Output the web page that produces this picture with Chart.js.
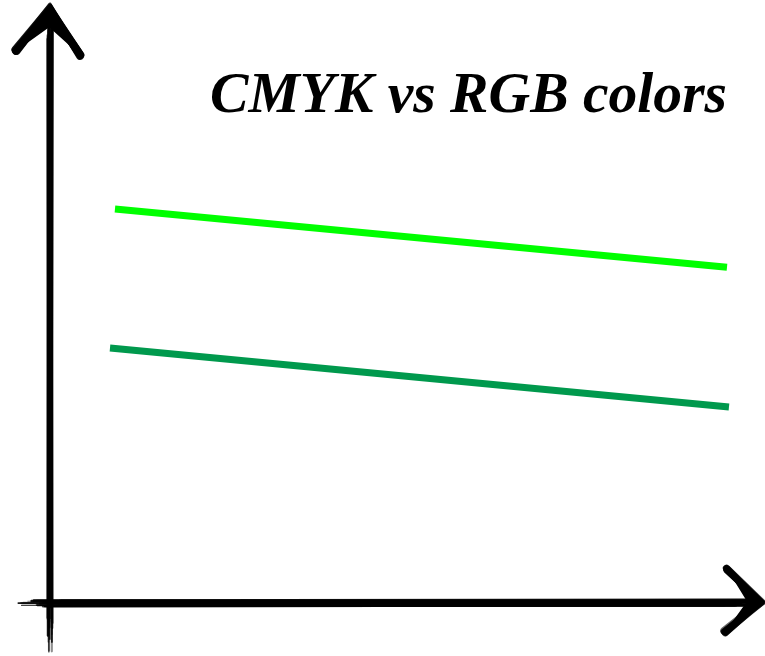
<!DOCTYPE html>
<html>
<head>
<meta charset="utf-8">
<script src="https://cdn.jsdelivr.net/npm/chart.js@4.4.0/dist/chart.umd.min.js"></script>
<style>
  html,body{margin:0;padding:0;background:#fff;}
  #wrap{width:765px;height:656px;position:relative;}
</style>
</head>
<body>
<div id="wrap"><canvas id="c" width="765" height="656"></canvas></div>
<script>
const titleText = "CMYK vs RGB colors";
const seriesNames = ["RGB green", "CMYK green"];
const rgbX = [9.15, 95.35];
const rgbY = [67.0, 57.1];
const cmykX = [8.45, 95.63];
const cmykY = [43.37, 33.33];
const seriesColors = ["#00FF00", "#00994D"];

function pts(xs, ys){ return xs.map((x,i)=>({x:x, y:ys[i]})); }

// deterministic pseudo-random for sketch texture
function makeRng(seed){ let s = seed; return function(){ s = (s*1103515245 + 12345) & 0x7fffffff; return s/0x7fffffff; }; }

const sketchAxes = {
  id: 'sketchAxes',
  afterDraw(chart){
    const ctx = chart.ctx;
    const a = chart.chartArea;
    const rnd = makeRng(7);
    const x0 = a.left, y0 = a.bottom;
    ctx.save();
    ctx.lineCap = 'round';
    // vertical axis strokes
    for(let i=0;i<30;i++){
      ctx.beginPath();
      ctx.strokeStyle = 'rgba(0,0,0,' + (0.4 + rnd()*0.6) + ')';
      ctx.lineWidth = 0.8 + rnd()*1.8;
      const off = (rnd()-0.5)*5;
      const t1 = 12 + rnd()*30, t2 = 652 - rnd()*50;
      ctx.moveTo(x0 + off + (rnd()-0.5)*1.5, t1);
      ctx.lineTo(x0 + off + (rnd()-0.5)*1.5, t2);
      ctx.stroke();
    }
    // horizontal axis strokes
    for(let i=0;i<30;i++){
      ctx.beginPath();
      ctx.strokeStyle = 'rgba(0,0,0,' + (0.4 + rnd()*0.6) + ')';
      ctx.lineWidth = 0.8 + rnd()*2;
      const off = (rnd()-0.5)*5.5;
      const s1 = 12 + rnd()*50, s2 = 762 - rnd()*40;
      ctx.moveTo(s1, y0 + off + (rnd()-0.5)*1.5);
      ctx.lineTo(s2, y0 + off + (rnd()-0.5)*1.5);
      ctx.stroke();
    }
    function arrow(p1, apex, p2){
      for(let i=0;i<12;i++){
        ctx.beginPath();
        ctx.strokeStyle = 'rgba(0,0,0,' + (0.6 + rnd()*0.4) + ')';
        ctx.lineWidth = 4 + rnd()*4;
        const j = () => (rnd()-0.5)*3;
        ctx.moveTo(p1[0]+j(), p1[1]+j());
        ctx.lineTo(apex[0]+j(), apex[1]+j());
        ctx.lineTo(p2[0]+j(), p2[1]+j());
        ctx.stroke();
      }
      ctx.beginPath();
      ctx.fillStyle = '#000';
      ctx.moveTo(p1[0], p1[1]);
      ctx.lineTo(apex[0], apex[1]);
      ctx.lineTo(p2[0], p2[1]);
      ctx.lineTo((apex[0]*0.6 + (p1[0]+p2[0])/2*0.4), (apex[1]*0.6 + (p1[1]+p2[1])/2*0.4));
      ctx.closePath();
      ctx.fill();
    }
    arrow([16,51], [x0, 10], [80,55]);
    arrow([727,569], [761, y0-1], [725,632]);
    ctx.restore();

    // title
    ctx.save();
    ctx.fillStyle = '#000';
    let size = 52;
    ctx.font = 'italic bold ' + size + 'px "Liberation Serif", "DejaVu Serif", serif';
    const w = ctx.measureText(titleText).width;
    size = size * 517 / w;
    ctx.font = 'italic bold ' + size + 'px "Liberation Serif", "DejaVu Serif", serif';
    ctx.textAlign = 'right';
    ctx.textBaseline = 'alphabetic';
    ctx.fillText(titleText, 727, 112);
    ctx.restore();
  }
};

new Chart(document.getElementById('c'), {
  type: 'line',
  data: {
    datasets: [
      { label: seriesNames[0], data: pts(rgbX, rgbY), borderColor: seriesColors[0], borderWidth: 7, pointRadius: 0, borderCapStyle: 'butt', fill: false, tension: 0 },
      { label: seriesNames[1], data: pts(cmykX, cmykY), borderColor: seriesColors[1], borderWidth: 7, pointRadius: 0, borderCapStyle: 'butt', fill: false, tension: 0 }
    ]
  },
  options: {
    responsive: false,
    animation: false,
    layout: { padding: { left: 50, right: 5, top: 15, bottom: 53 } },
    plugins: { legend: { display: false }, tooltip: { enabled: false }, title: { display: false } },
    scales: {
      x: { type: 'linear', min: 0, max: 100, display: false },
      y: { type: 'linear', min: 0, max: 100, display: false }
    }
  },
  plugins: [sketchAxes]
});
</script>
</body>
</html>
